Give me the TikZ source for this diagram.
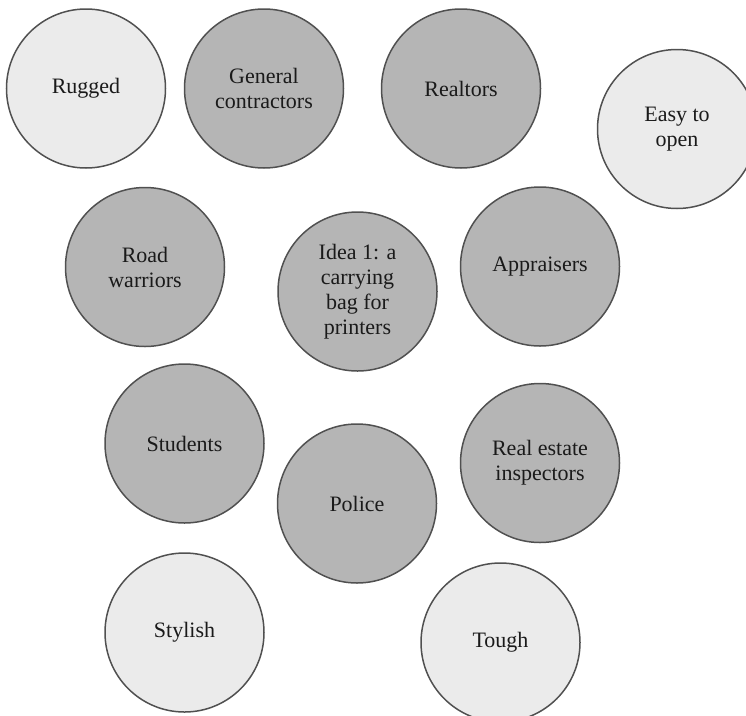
\documentclass[tikz,border=0pt]{standalone}
\usepackage{fontspec}
\setmainfont{Liberation Serif}
\definecolor{ringline}{HTML}{505050}
\definecolor{lightfill}{HTML}{EBEBEB}
\definecolor{darkfill}{HTML}{B5B5B5}
\definecolor{inktext}{HTML}{1A1A1A}
\tikzset{
  bubble/.style={circle, draw=ringline, line width=1.5pt, minimum size=159pt,
    inner sep=0pt, align=center, text=inktext,
    font=\fontsize{22}{25}\selectfont},
  trait/.style={bubble, fill=lightfill},
  market/.style={bubble, fill=darkfill}
}
\begin{document}
\begin{tikzpicture}[x=1pt, y=-1pt]
  \useasboundingbox (0,0) rectangle (746,715);
  \fill[white] (0,0) rectangle (746,715);
  % first row
  \node[trait]  (rugged)     at (86,88.5)    {Rugged};
  \node[market] (general)    at (264,88.5)   {General\\contractors};
  \node[market] (realtors)   at (461,88.5)   {Realtors};
  \node[trait]  (easy)       at (677,129)    {Easy to\\open};
  % second row
  \node[market] (road)       at (145,267)    {Road\\warriors};
  \node[market] (idea)       at (357.5,291.5) {Idea 1: a\\carrying\\bag for\\printers};
  \node[market] (appraisers) at (540,266.5)  {Appraisers};
  % third row
  \node[market] (students)   at (184.5,443.5) {Students};
  \node[market] (police)     at (357,503.5)  {Police};
  \node[market] (inspectors) at (540,463)    {Real estate\\inspectors};
  % bottom row
  \node[trait]  (stylish)    at (184.5,632.5) {Stylish};
  \node[trait]  (tough)      at (500.5,642.5) {Tough};
\end{tikzpicture}
\end{document}
